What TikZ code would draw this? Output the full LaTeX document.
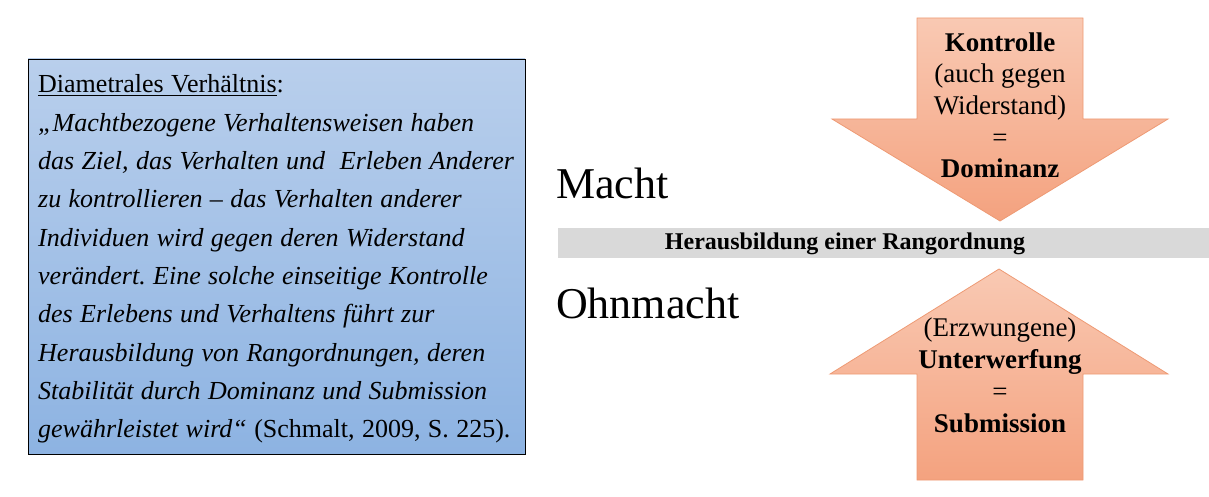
\documentclass[tikz,border=0pt]{standalone}
\usepackage{fontspec}
\setmainfont{Liberation Serif}
\usepackage{tikz}
\usetikzlibrary{positioning}

\definecolor{boxtop}{HTML}{B9CFEC}
\definecolor{boxbot}{HTML}{8DB3E2}
\definecolor{pfeiltop}{HTML}{F9C9B3}
\definecolor{pfeilbot}{HTML}{F4A27F}
\definecolor{pfeilrand}{HTML}{EE9A74}
\definecolor{balken}{HTML}{D9D9D9}
\newcommand{\engsatz}{\frenchspacing\spaceskip=7.4pt\relax\xspaceskip=7.4pt\relax}

\begin{document}
\begin{tikzpicture}
  [
  x = 1pt, y = -1pt,
  % box
  zitatbox/.style = {rectangle, draw = black, line width = 0.9pt,
    top color = boxtop, bottom color = boxbot,
    minimum width = 497pt, minimum height = 395pt, inner sep = 0pt},
  zitat/.style = {align = left, text width = 492pt, inner sep = 0pt,
    font = \fontsize{26}{38.3}\selectfont},
  % arrows
  pfeil/.style = {draw = pfeilrand, line width = 0.8pt,
    top color = pfeiltop, bottom color = pfeilbot},
  pfeiltext/.style = {align = center, inner sep = 0pt,
    font = \fontsize{27}{31.7}\selectfont},
  % big words
  gross/.style = {inner sep = 0pt, font = \fontsize{44}{50}\selectfont},
  % bar
  balkentext/.style = {inner sep = 0pt, font = \fontsize{24}{28}\selectfont\bfseries},
  ]

  \useasboundingbox (0,0) rectangle (1209,497);

  % nodes
  \node [zitatbox] (kasten) at (276.5,256.5) {};
  \node [zitat, anchor = base west] (zitattext) at (38,93)
    {\engsatz\underline{Diametrales Verhältnis}:\\
     \textit{„Machtbezogene Verhaltensweisen haben}\\
     \textit{das Ziel, das Verhalten und\ \ Erleben Anderer}\\
     \textit{zu kontrollieren -- das Verhalten anderer}\\
     \textit{Individuen wird gegen deren Widerstand}\\
     \textit{verändert. Eine solche einseitige Kontrolle}\\
     \textit{des Erlebens und Verhaltens führt zur}\\
     \textit{Herausbildung von Rangordnungen, deren}\\
     \textit{Stabilität durch Dominanz und Submission}\\
     \textit{gewährleistet wird“} (Schmalt, 2009, S. 225).};

  \node [gross, anchor = base west] (macht) at (556,199) {Macht};
  \node [gross, anchor = base west] (ohnmacht) at (556,318) {Ohnmacht};

  \path [fill = balken] (558,228) rectangle (1209,258);
  \node [balkentext, anchor = base] (rang) at (845,249)
    {Herausbildung einer Rangordnung};

  % path
  \path [pfeil] (917,18) -- (1083,18) -- (1083,119) -- (1168,119)
    -- (1000,221) -- (832,119) -- (917,119) -- cycle;
  \path [pfeil] (999,269) -- (1168,374) -- (1083,374) -- (1083,480)
    -- (917,480) -- (917,374) -- (830,374) -- cycle;

  \node [pfeiltext, anchor = base] (dominanz) at (1000,178)
    {\textbf{Kontrolle}\\(auch gegen\\Widerstand)\\=\\\textbf{Dominanz}};
  \node [pfeiltext, anchor = base] (submission) at (1000,432)
    {(Erzwungene)\\\textbf{Unterwerfung}\\=\\\textbf{Submission}};

\end{tikzpicture}
\end{document}
